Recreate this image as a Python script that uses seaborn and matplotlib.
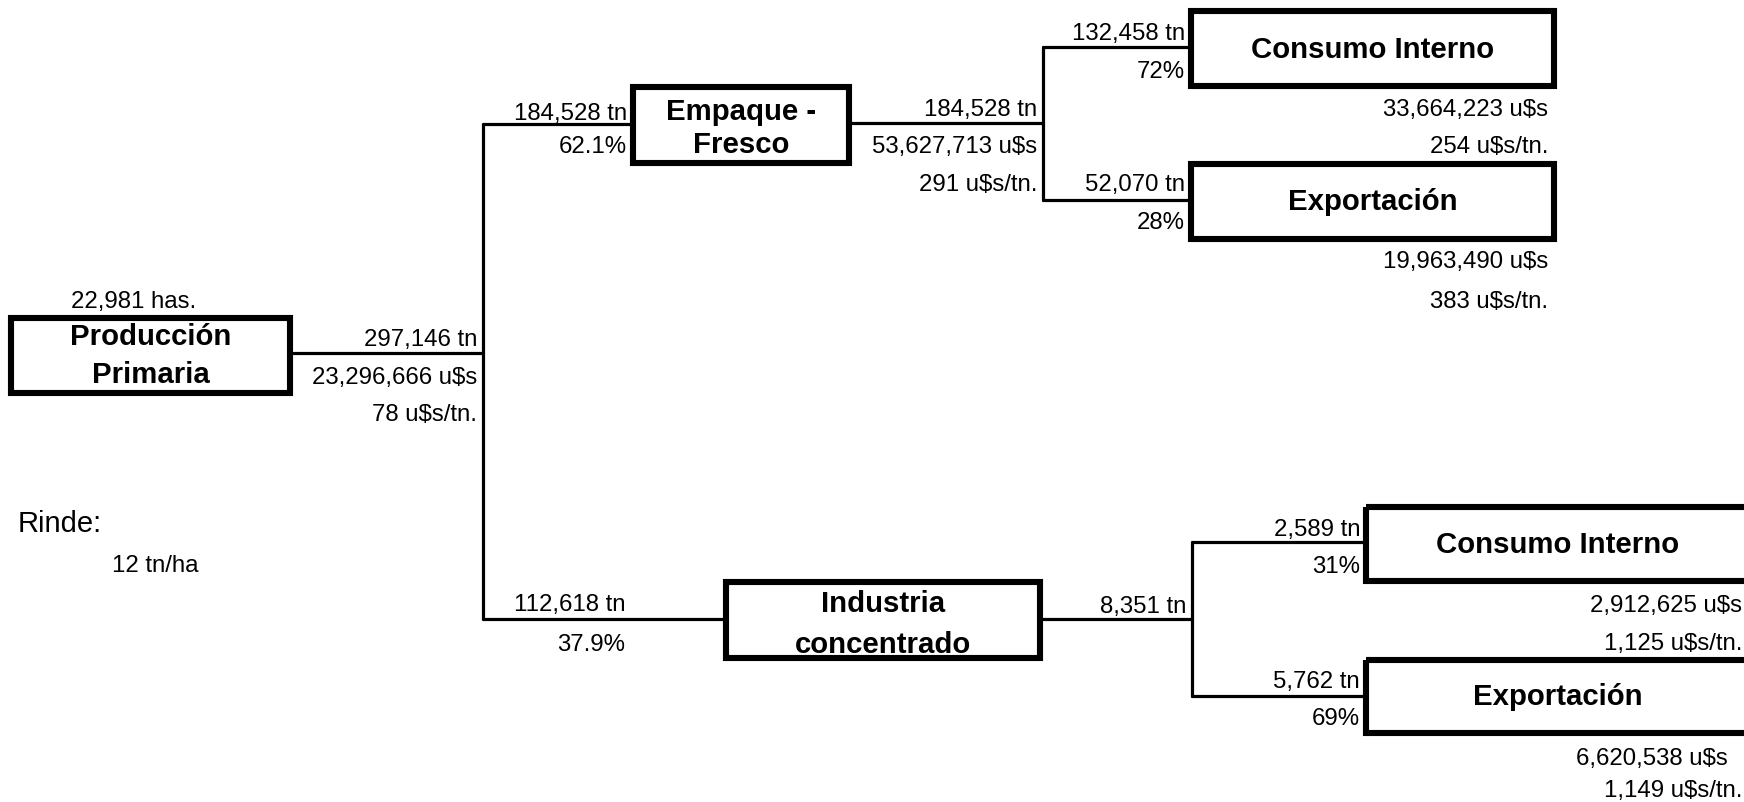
import pandas as pd
import seaborn as sns
import matplotlib.pyplot as plt
from matplotlib.patches import Rectangle

# =========================
# Data
# =========================
area_has = 22981
rinde_tn_ha = 12

prod_tn = 297146
prod_usd = 23296666
prod_price = 78

fresh_tn = 184528
fresh_pct = 62.1
fresh_usd = 53627713
fresh_price = 291

ind_tn = 112618
ind_pct = 37.9
ind_out_tn = 8351

dest_names = ["Consumo Interno", "Exportación"]
fresh_dest_tn = [132458, 52070]
fresh_dest_pct = [72, 28]
fresh_dest_usd = [33664223, 19963490]
fresh_dest_price = [254, 383]

ind_dest_tn = [2589, 5762]
ind_dest_pct = [31, 69]
ind_dest_usd = [2912625, 6620538]
ind_dest_price = [1125, 1149]

# =========================
# Style
# =========================
sns.set_theme(style="white")
plt.rcParams['font.family'] = ['Liberation Sans', 'DejaVu Sans']

W, H = 1744, 803
fig = plt.figure(figsize=(W / 100, H / 100), dpi=100)
ax = fig.add_axes([0, 0, 1, 1])

FS = 17.3      # normal labels
FB = 21.2      # box titles


def num(v):
    return f"{v:,}"


def txt(x, y, s, ha='right', size=FS, bold=False, off=8):
    ax.text(x, y + off, s, ha=ha, va='baseline', fontsize=size,
            fontweight='bold' if bold else 'normal', color='black')


def box(x0, y0, x1, y1, lines, cx=None):
    ax.add_patch(Rectangle((x0, y0), x1 - x0, y1 - y0, fill=False,
                           edgecolor='black', lw=4.4, clip_on=True))
    if cx is None:
        cx = (x0 + x1) / 2
    for (yy, s) in lines:
        txt(cx, yy, s, ha='center', size=FB, bold=True, off=10)


# =========================
# Connectors (drawn with seaborn)
# =========================
segs = [
    [(293, 354), (483, 354)],
    [(483, 125), (483, 620)],
    [(483, 125), (630, 125)],
    [(483, 620), (723, 620)],
    [(852, 124), (1043, 124)],
    [(1043, 48), (1043, 201)],
    [(1043, 48), (1188, 48)],
    [(1043, 201), (1188, 201)],
    [(1043, 620), (1192, 620)],
    [(1192, 543), (1192, 697)],
    [(1192, 543), (1363, 543)],
    [(1192, 697), (1363, 697)],
]
rows = []
for i, seg in enumerate(segs):
    for (x, y) in seg:
        rows.append({'seg': i, 'x': x, 'y': y})
seg_df = pd.DataFrame(rows)
sns.lineplot(data=seg_df, x='x', y='y', units='seg', estimator=None,
             sort=False, color='black', lw=2.3, ax=ax, legend=False)
ax.set_xlim(0, W)
ax.set_ylim(H, 0)
ax.axis('off')

# =========================
# Boxes
# =========================
box(11, 319, 290, 394, [(335, "Producción"), (373, "Primaria")])
box(633, 88, 849, 164, [(110, "Empaque -"), (143, "Fresco")])
box(726, 583, 1040, 659, [(602, "Industria"), (643, "concentrado")])
box(1191, 12, 1554, 87, [(48, dest_names[0])])
box(1191, 165, 1554, 240, [(200, dest_names[1])])
box(1366, 508, 1770, 582, [(543, dest_names[0])], cx=1558)
box(1366, 661, 1770, 734, [(695, dest_names[1])], cx=1558)

# =========================
# Labels
# =========================
txt(134, 300, f"{num(area_has)} has.", ha='center')
txt(18, 524, "Rinde:", ha='left', size=21)
txt(112, 564, f"{rinde_tn_ha} tn/ha", ha='left')

txt(477, 338, f"{num(prod_tn)} tn")
txt(477, 376, f"{num(prod_usd)} u$s")
txt(477, 413, f"{prod_price} u$s/tn.")

txt(627, 112, f"{num(fresh_tn)} tn")
txt(627, 145, f"{fresh_pct}%")

txt(1037, 108, f"{num(fresh_tn)} tn")
txt(1037, 145, f"{num(fresh_usd)} u$s")
txt(1037, 183, f"{fresh_price} u$s/tn.")

txt(625, 603, f"{num(ind_tn)} tn")
txt(625, 643, f"{ind_pct}%")
txt(1186, 605, f"{num(ind_out_tn)} tn")

# fresh destinations
for i, (yt, yp, yu, yr) in enumerate([(32, 70, 108, 145), (183, 221, 260, 300)]):
    txt(1185, yt, f"{num(fresh_dest_tn[i])} tn")
    txt(1185, yp, f"{fresh_dest_pct[i]}%")
    txt(1548, yu, f"{num(fresh_dest_usd[i])} u$s")
    txt(1548, yr, f"{num(fresh_dest_price[i])} u$s/tn.")

# industry destinations
for i, (yt, yp, yu, yr, xu) in enumerate([(528, 565, 604, 642, 1742),
                                          (680, 717, 757, 789, 1728)]):
    txt(1360, yt, f"{num(ind_dest_tn[i])} tn")
    txt(1360, yp, f"{ind_dest_pct[i]}%")
    txt(xu, yu, f"{num(ind_dest_usd[i])} u$s")
    txt(1742, yr, f"{num(ind_dest_price[i])} u$s/tn.")

fig.savefig("out.png", dpi=100, facecolor='white')
